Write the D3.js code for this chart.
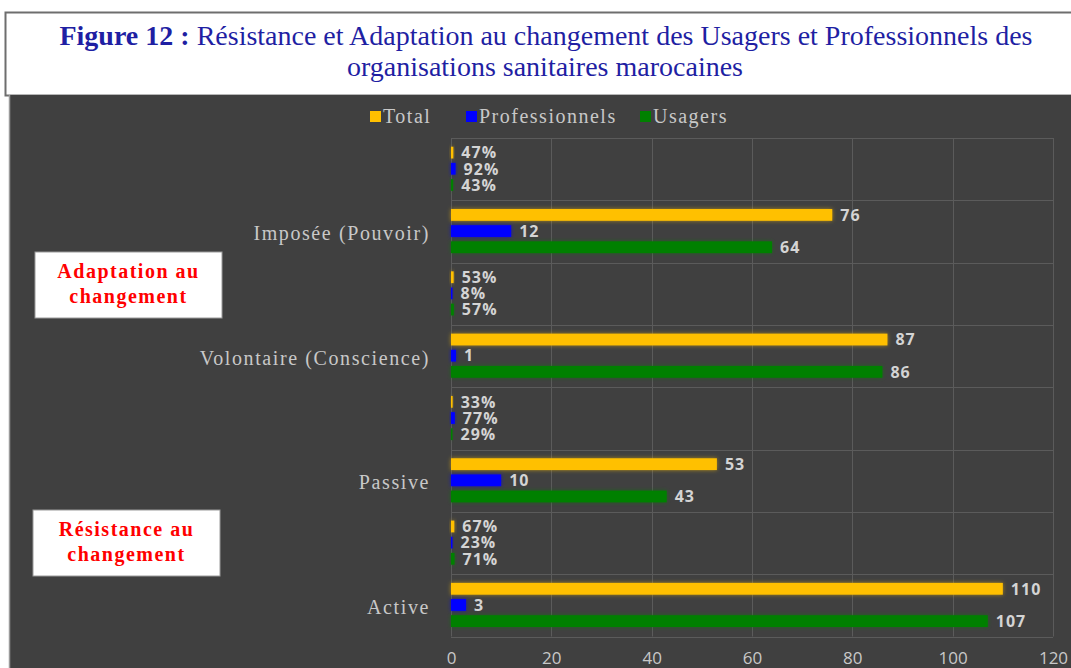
<!DOCTYPE html>
<html>
<head>
<meta charset="utf-8">
<script src="https://cdn.jsdelivr.net/npm/d3@7"></script>
<style>
  html, body { margin: 0; padding: 0; background: #fff; }
  svg { display: block; }
</style>
</head>
<body>
<div id="chart"></div>
<script>
// categories, top to bottom (the percent rows have no label)
var categories = ["imp_pct", "imp", "vol_pct", "vol", "pas_pct", "pas", "act_pct", "act"];
var catLabels = ["", "Imposée (Pouvoir)", "", "Volontaire (Conscience)", "", "Passive", "", "Active"];
var isPercent = [true, false, true, false, true, false, true, false];

var seriesNames = ["Total", "Professionnels", "Usagers"];
var total = [0.47, 76, 0.53, 87, 0.33, 53, 0.67, 110];
var professionnels = [0.92, 12, 0.08, 1, 0.77, 10, 0.23, 3];
var usagers = [0.43, 64, 0.57, 86, 0.29, 43, 0.71, 107];

var xTicks = [0, 20, 40, 60, 80, 100, 120];

var W = 1071, H = 668;
var colors = {"Total": "#ffc000", "Professionnels": "#0000ff", "Usagers": "#008000"};
var plot = {left: 451, right: 1053, top: 138, bottom: 636.5};

var svg = d3.select("#chart").append("svg")
  .attr("width", W)
  .attr("height", H);

var defs = svg.append("defs");
var glow = defs.append("filter").attr("id", "glow")
  .attr("x", "-50%").attr("y", "-50%").attr("width", "200%").attr("height", "200%");
glow.append("feGaussianBlur").attr("in", "SourceGraphic").attr("stdDeviation", 2).attr("result", "b");
glow.append("feComponentTransfer").attr("in", "b").attr("result", "bb")
  .append("feFuncA").attr("type", "linear").attr("slope", 0.55);
var merge = glow.append("feMerge");
merge.append("feMergeNode").attr("in", "bb");
merge.append("feMergeNode").attr("in", "SourceGraphic");

// title box
svg.append("rect")
  .attr("x", 5.5).attr("y", 12.5).attr("width", W).attr("height", 83)
  .attr("fill", "#fff").attr("stroke", "#6e6e6e").attr("stroke-width", 2);

var t1 = svg.append("text")
  .attr("x", 546).attr("y", 45)
  .attr("text-anchor", "middle")
  .style("font-family", "Liberation Serif, serif")
  .style("font-size", "28px")
  .attr("fill", "#1f1fa3");
t1.append("tspan").style("font-weight", "bold").text("Figure 12 : ");
t1.append("tspan").text("Résistance et Adaptation au changement des Usagers et Professionnels des");

svg.append("text")
  .attr("x", 545).attr("y", 76)
  .attr("text-anchor", "middle")
  .style("font-family", "Liberation Serif, serif")
  .style("font-size", "28px")
  .attr("fill", "#1f1fa3")
  .text("organisations sanitaires marocaines");

// dark chart panel
svg.append("rect")
  .attr("x", 10).attr("y", 95).attr("width", W - 10).attr("height", H - 95)
  .attr("fill", "#404040");
svg.append("line")
  .attr("x1", 9.5).attr("x2", 9.5).attr("y1", 95).attr("y2", H)
  .attr("stroke", "#9a9a9a").attr("stroke-width", 1.5);

// scales
var x = d3.scaleLinear().domain([0, 120]).range([plot.left, plot.right]);
var y0 = d3.scaleBand().domain(categories).range([plot.top, plot.bottom]).padding(0);
var y1 = d3.scaleBand().domain(seriesNames)
  .range([8.7, y0.bandwidth() - 9.5]).paddingInner(0.27).paddingOuter(0);

// gridlines
var grid = svg.append("g").attr("stroke", "#5b5b5b").attr("stroke-width", 1);
grid.selectAll("line.v").data(xTicks).enter().append("line")
  .attr("x1", function (d) { return Math.round(x(d)) + 0.5; })
  .attr("x2", function (d) { return Math.round(x(d)) + 0.5; })
  .attr("y1", plot.top).attr("y2", plot.bottom);
var bounds = categories.map(function (c) { return y0(c); }).concat([plot.bottom]);
grid.selectAll("line.h").data(bounds).enter().append("line")
  .attr("x1", plot.left).attr("x2", plot.right)
  .attr("y1", function (d) { return Math.round(d) + 0.5; })
  .attr("y2", function (d) { return Math.round(d) + 0.5; });

// x axis labels
var xAxis = svg.append("g")
  .attr("transform", "translate(0," + (plot.bottom + 15) + ")")
  .call(d3.axisBottom(x).tickValues(xTicks).tickSize(0).tickPadding(0));
xAxis.select(".domain").remove();
xAxis.selectAll("text")
  .attr("fill", "#c8c8c8")
  .style("font-family", "Open Sans, sans-serif")
  .style("font-size", "17px");

// category labels
var yAxis = svg.append("g")
  .attr("transform", "translate(" + (plot.left - 21) + ",0)")
  .call(d3.axisLeft(y0).tickSize(0).tickPadding(0)
    .tickFormat(function (d, i) { return catLabels[i]; }));
yAxis.select(".domain").remove();
yAxis.selectAll("text")
  .attr("fill", "#c8c8c8")
  .attr("dy", "0.42em")
  .style("font-family", "Liberation Serif, serif")
  .style("font-size", "20px")
  .style("letter-spacing", "1.6px");

// bars
var rows = categories.map(function (c, i) {
  return {cat: c, pct: isPercent[i], values: [
    {name: "Total", value: total[i]},
    {name: "Professionnels", value: professionnels[i]},
    {name: "Usagers", value: usagers[i]}
  ]};
});

var groups = svg.selectAll("g.cat").data(rows).enter().append("g")
  .attr("class", "cat")
  .attr("transform", function (d) { return "translate(0," + y0(d.cat) + ")"; });

groups.selectAll("rect").data(function (d) { return d.values; }).enter().append("rect")
  .attr("x", x(0))
  .attr("y", function (d) { return y1(d.name); })
  .attr("width", function (d) { return Math.max(x(d.value) - x(0), 1.5); })
  .attr("height", y1.bandwidth())
  .attr("fill", function (d) { return colors[d.name]; })
  .attr("filter", "url(#glow)");

var fmtPct = d3.format(".0%");
groups.selectAll("text").data(function (d) {
  return d.values.map(function (v) { return {name: v.name, value: v.value, pct: d.pct}; });
}).enter().append("text")
  .attr("x", function (d) { return Math.max(x(d.value), x(0) + 1.5) + 8; })
  .attr("y", function (d) { return y1(d.name) + y1.bandwidth() / 2; })
  .attr("dy", "0.36em")
  .attr("fill", "#d4d4d4")
  .style("font-family", "Open Sans, sans-serif")
  .style("font-weight", "bold")
  .style("font-size", "16px")
  .style("letter-spacing", "1px")
  .text(function (d) { return d.pct ? fmtPct(d.value) : d.value; });

// legend
var legendX = [370, 466, 640];
var legend = svg.append("g").selectAll("g").data(seriesNames).enter().append("g")
  .attr("transform", function (d, i) { return "translate(" + legendX[i] + ",116)"; });
legend.append("rect")
  .attr("x", 0).attr("y", -5).attr("width", 11).attr("height", 11)
  .attr("fill", function (d) { return colors[d]; });
legend.append("text")
  .attr("x", 13).attr("y", 0).attr("dy", "0.36em")
  .attr("fill", "#c8c8c8")
  .style("font-family", "Liberation Serif, serif")
  .style("font-size", "20px")
  .style("letter-spacing", "1.5px")
  .text(function (d) { return d; });

// side boxes
var notes = [
  {lines: ["Adaptation au", "changement"], x: 35, y: 252},
  {lines: ["Résistance au", "changement"], x: 33, y: 510}
];
var note = svg.append("g").selectAll("g").data(notes).enter().append("g")
  .attr("transform", function (d) { return "translate(" + d.x + "," + d.y + ")"; });
note.append("rect")
  .attr("width", 187).attr("height", 66)
  .attr("fill", "#fff").attr("stroke", "#9a9a9a").attr("stroke-width", 1);
note.each(function (d) {
  var g = d3.select(this);
  d.lines.forEach(function (l, i) {
    g.append("text")
      .attr("x", 93.5).attr("y", 26 + i * 25)
      .attr("text-anchor", "middle")
      .attr("fill", "#ff0000")
      .style("font-family", "Liberation Serif, serif")
      .style("font-weight", "bold")
      .style("font-size", "20px")
      .style("letter-spacing", "1.5px")
      .text(l);
  });
});
</script>
</body>
</html>
